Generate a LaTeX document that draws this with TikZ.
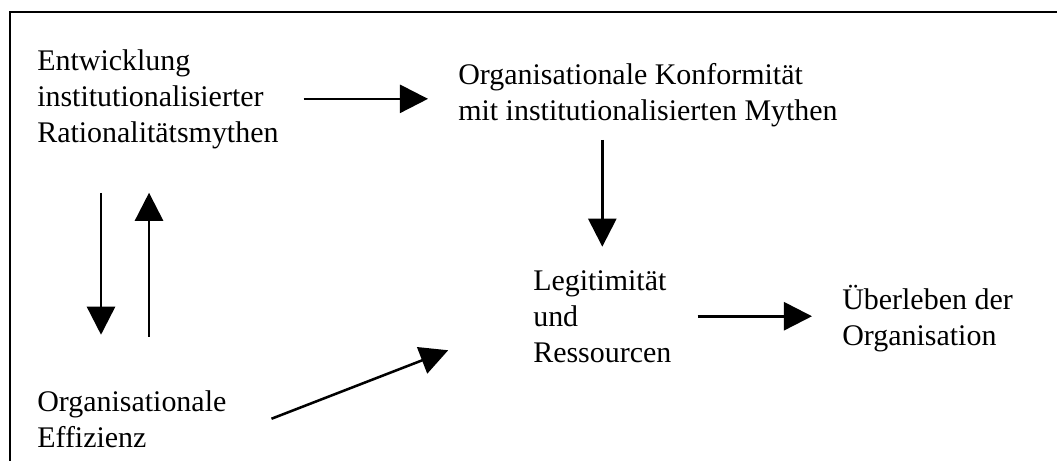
\documentclass[tikz,border=0pt]{standalone}
\usepackage{fontspec}
\setmainfont{Liberation Serif}
\usetikzlibrary{arrows.meta}
\begin{document}
\begin{tikzpicture}[x=0.025cm, y=-0.025cm, font=\fontsize{21.3pt}{25.6pt}\selectfont, line join=miter, >={Triangle[length=0.7cm,width=0.7cm]}]
	\tikzset{txt/.style={anchor=base west, align=left, inner sep=0pt}}
	\tikzset{arr/.style={->, line width=1.8pt}}
	\def \xmax{1057}
	\def \ymax{461}
	\useasboundingbox (0,0) rectangle (\xmax,\ymax);
	\draw[line width=1.8pt] (\xmax,12) -- (10,12) -- (10,\ymax);
	\node[txt] (mythen) at (37,142) {Entwicklung\\institutionalisierter\\Rationalitätsmythen};
	\node[txt] (konform) at (458,120) {Organisationale Konformität\\mit institutionalisierten Mythen};
	\node[txt] (legit) at (533,362) {Legitimität\\und\\Ressourcen};
	\node[txt] (ueberleben) at (842,345) {Überleben der\\Organisation};
	\node[txt] (effizienz) at (37,447) {Organisationale\\Effizienz};
	\draw[arr, shorten <=0.62cm, shorten >=0.75cm] (mythen.east) -- (mythen.east -| konform.west);
	\draw[arr, shorten <=0.33cm, shorten >=0.58cm] (legit.north |- konform.south) -- (legit.north);
	\draw[arr, shorten <=0.65cm, shorten >=0.75cm] (legit.east) -- (legit.east -| ueberleben.west);
	\draw[arr] ([xshift=1.12cm]effizienz.east) -- ([xshift=-2.12cm,yshift=-0.85cm]legit.west);
	\draw[arr, shorten <=1.1cm, shorten >=1.38cm] ([xshift=1.6cm]mythen.south west) -- ([xshift=1.6cm]effizienz.north west);
	\draw[arr, shorten <=1.33cm, shorten >=1.1cm] ([xshift=2.8cm]effizienz.north west) -- ([xshift=2.8cm]mythen.south west);
\end{tikzpicture}
\end{document}
